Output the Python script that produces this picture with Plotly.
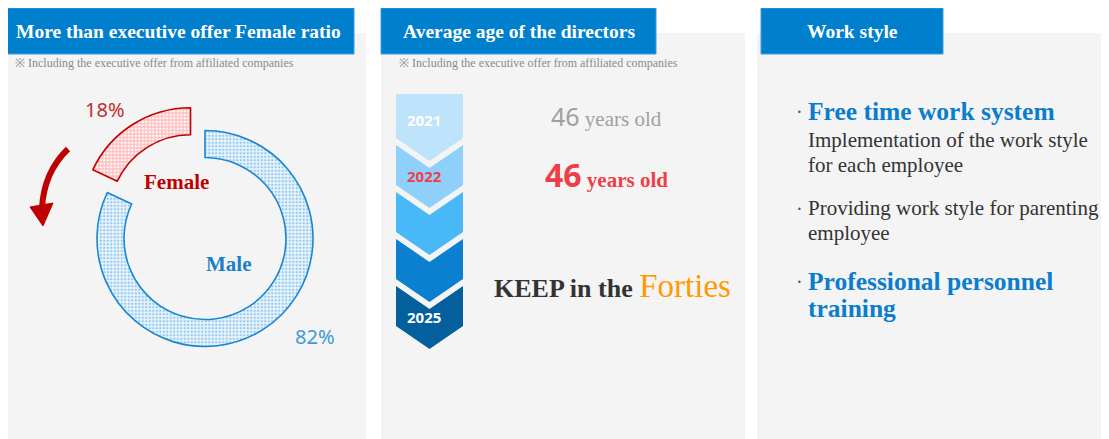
import plotly.graph_objects as go

W, H = 1109, 439
OFF = 8  # page body margin; axes below are in page pixels

# data
gender_labels = ["Male", "Female"]
gender_share = [82, 18]
stage_years = ["2021", "2022", "", "", "2025"]
stage_colors = ["#bde4fb", "#8ed0fa", "#48b8f7", "#0b80d0", "#045f9d"]
stage_text_colors = ["white", "#ee3e48", "white", "white", "white"]
avg_age = [46, 46]
panel_titles = ["More than executive offer Female ratio", "Average age of the directors", "Work style"]
note = "※ Including the executive offer from affiliated companies"

SERIF = "Liberation Serif"
SANS = "Noto Sans"
BLUE = "#0080cc"

fig = go.Figure()

# donut
cx, cy, r_out = 205, 238.5, 108
pull = 0.25
half = r_out * (1 + pull)
fx, fy = cx - OFF, cy - OFF
fig.add_trace(go.Pie(
    labels=gender_labels,
    values=gender_share,
    sort=False,
    direction="clockwise",
    rotation=0,
    hole=0.75,
    pull=[0, pull],
    textinfo="none",
    hoverinfo="label+percent",
    showlegend=False,
    domain=dict(x=[(fx - half) / W, (fx + half) / W],
                y=[(H - fy - half) / H, (H - fy + half) / H]),
    marker=dict(
        colors=["#e8f3fb", "#ffc2c2"],
        line=dict(color=["#1a86d0", "#c00000"], width=1.6),
        pattern=dict(shape=[".", "."], fgcolor=["#8fc8ef", "#ffffff"],
                     bgcolor=["#e8f3fb", "#ffc2c2"], size=3.5, solidity=0.35),
    ),
))

# chevrons
x0, x1 = 396, 463
xm = (x0 + x1) / 2
depth = 23
for i, (yr, col, tcol) in enumerate(zip(stage_years, stage_colors, stage_text_colors)):
    if i == 0:
        top, bottom = 94, 138
        xs = [x0, x1, x1, xm, x0, x0]
        ys = [top, top, bottom, bottom + depth, bottom, top]
        ty = 120
    else:
        top = 145 + 47 * (i - 1)
        bottom = top + 40
        xs = [x0, xm, x1, x1, xm, x0, x0]
        ys = [top, top + depth, top, bottom, bottom + depth, bottom, top]
        ty = top + 31
    fig.add_trace(go.Scatter(x=xs, y=ys, mode="lines", fill="toself", fillcolor=col,
                             line=dict(width=0, color=col), hoverinfo="skip", showlegend=False))
    if yr:
        fig.add_annotation(x=424, y=ty, text=f"<b>{yr}</b>", showarrow=False,
                           font=dict(family=SANS, size=15, color=tcol))

shapes = []
# grey panels
for px0, px1 in [(0, 366), (381, 745), (757, W + OFF)]:
    shapes.append(dict(type="rect", xref="x", yref="y", x0=px0, x1=px1, y0=33, y1=H + OFF,
                       fillcolor="#f4f4f4", line_width=0, layer="below"))
# header boxes
for hx0, hx1 in [(2, 354), (381, 656), (761, 943)]:
    shapes.append(dict(type="rect", xref="x", yref="y", x0=hx0, x1=hx1, y0=8, y1=54,
                       fillcolor=BLUE, line=dict(color="#3a9de0", width=1), layer="below"))
# curved arrow
shapes.append(dict(type="path", xref="x", yref="y", path="M 68,149 Q 44,172 42,208",
                   line=dict(color="#c00000", width=6)))
shapes.append(dict(type="path", xref="x", yref="y", path="M 30,207 L 53,203 L 43,226 Z",
                   fillcolor="#c00000", line=dict(color="#c00000", width=1)))

ann = []
# header titles
ann.append(dict(x=14, y=31, xanchor="left", text=f"<b>{panel_titles[0]}</b>",
                font=dict(family=SERIF, size=19.5, color="white")))
ann.append(dict(x=519, y=31, text=f"<b>{panel_titles[1]}</b>",
                font=dict(family=SERIF, size=19.5, color="white")))
ann.append(dict(x=852, y=31, text=f"<b>{panel_titles[2]}</b>",
                font=dict(family=SERIF, size=19.5, color="white")))
ann.append(dict(x=13, y=63, xanchor="left", text=note,
                font=dict(family=SERIF, size=12, color="#8a8a8a")))
ann.append(dict(x=397, y=63, xanchor="left", text=note,
                font=dict(family=SERIF, size=12, color="#8a8a8a")))

# donut labels
ann.append(dict(x=105, y=109, text=f"{gender_share[1]}%",
                font=dict(family=SANS, size=20, color="#c0302a")))
ann.append(dict(x=176, y=182, text=f"<b>{gender_labels[1]}</b>",
                font=dict(family=SERIF, size=21, color="#c00000")))
ann.append(dict(x=228, y=264, text=f"<b>{gender_labels[0]}</b>",
                font=dict(family=SERIF, size=21, color="#1a7fc8")))
ann.append(dict(x=315, y=336, text=f"{gender_share[0]}%",
                font=dict(family=SANS, size=20, color="#3d9bd8")))

# ages
ann.append(dict(x=606, y=116,
                text=f"<span style='font-family:{SANS};font-size:25px'>{avg_age[0]}</span> years old",
                font=dict(family=SERIF, size=21, color="#a0a0a0")))
ann.append(dict(x=606, y=174,
                text=f"<b><span style='font-family:{SANS};font-size:32px'>{avg_age[1]}</span> years old</b>",
                font=dict(family=SERIF, size=21, color="#ee3e48")))
ann.append(dict(x=612, y=286,
                text="<b>KEEP in the </b><span style='color:#ff9a00;font-size:33px'>Forties</span>",
                font=dict(family=SERIF, size=26, color="#333333")))

# work style
work_lines = [
    ("Free time work system", 111, True, True),
    ("Implementation of the work style", 140, False, False),
    ("for each employee", 165, False, False),
    ("Providing work style for parenting", 208, False, True),
    ("employee", 233, False, False),
    ("Professional personnel", 281, True, True),
    ("training", 308, True, False),
]
for txt, ly, bold, bullet in work_lines:
    if bold:
        t = f"<b>{txt}</b>"
        f = dict(family=SERIF, size=25.5, color="#0a7dcc")
    else:
        t = txt
        f = dict(family=SERIF, size=21, color="#333333")
    ann.append(dict(x=806, y=ly, xanchor="left", text=t, font=f))
    if bullet:
        ann.append(dict(x=799, y=ly + 1, text="·", font=dict(family=SERIF, size=20, color="#555555")))

for a in ann:
    a.setdefault("showarrow", False)
    a.setdefault("xref", "x")
    a.setdefault("yref", "y")
    fig.add_annotation(**a)

fig.update_layout(
    width=W, height=H,
    margin=dict(l=0, r=0, t=0, b=0),
    paper_bgcolor="white",
    plot_bgcolor="rgba(0,0,0,0)",
    shapes=shapes,
    xaxis=dict(range=[OFF, W + OFF], visible=False, fixedrange=True),
    yaxis=dict(range=[H + OFF, OFF], visible=False, fixedrange=True),
    showlegend=False,
)

fig.write_html("out.html")
